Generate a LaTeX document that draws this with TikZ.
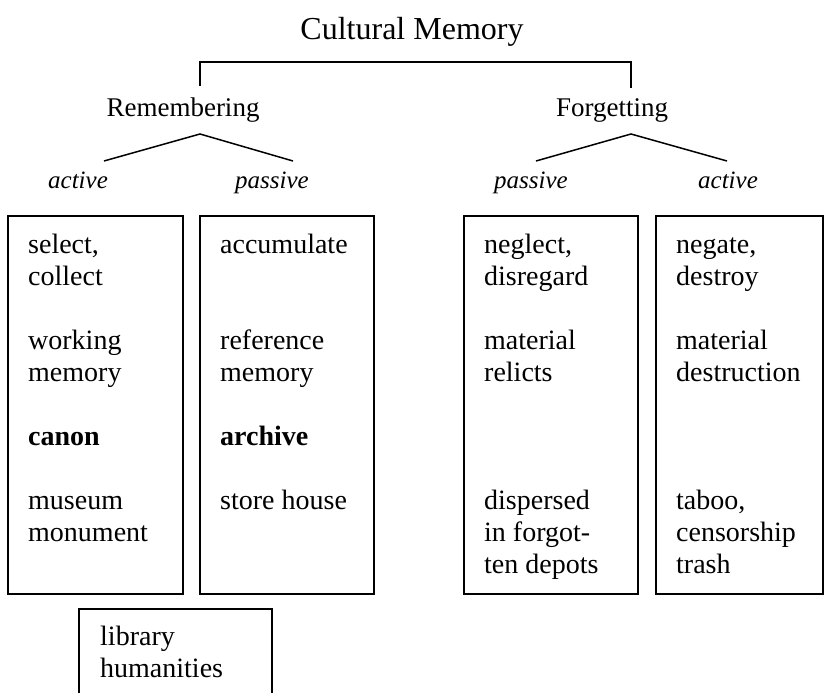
\documentclass[tikz,border=0pt]{standalone}
\usepackage{fontspec}
\setmainfont{Liberation Serif}
\begin{document}
\begin{tikzpicture}[x=1pt,y=-1pt,
  frame/.style={draw, line width=1.5pt, inner sep=0pt, anchor=north west},
  link/.style={draw, line width=1.5pt},
  txt/.style={anchor=base west, inner sep=0pt, font=\fontsize{28}{32}\selectfont},
  head/.style={anchor=base, inner sep=0pt, font=\fontsize{27}{32}\selectfont},
  sub/.style={anchor=base, inner sep=0pt, font=\fontsize{25}{32}\selectfont\itshape}]
\useasboundingbox (0,0) rectangle (824,693);
% headings
\node[anchor=base, inner sep=0pt, font=\fontsize{32}{36}\selectfont] (title) at (412,40) {Cultural Memory};
\node[head] (rem) at (183,116) {Remembering};
\node[head] (forg) at (612,116) {Forgetting};
\coordinate (remtop) at (200,86);
\coordinate (forgtop) at (631,88);
\coordinate (bl) at (200,62);
\coordinate (br) at (631,62);
\draw[link] (remtop) -- (bl) -- (br) -- (forgtop);
% sub labels
\node[sub] (ra) at (78,188) {active};
\node[sub] (rp) at (272,188) {passive};
\node[sub] (fp) at (531,188) {passive};
\node[sub] (fa) at (728,188) {active};
\coordinate (rapex) at (200,134);
\coordinate (fapex) at (631,134);
\coordinate (ral) at (104,161);
\coordinate (rar) at (293,161);
\coordinate (fal) at (536,161);
\coordinate (far) at (727,161);
\draw[link] (ral) -- (rapex) -- (rar);
\draw[link] (fal) -- (fapex) -- (far);
% boxes
\node[frame, minimum width=175pt, minimum height=378pt] (b1) at (7,215) {};
\node[frame, minimum width=174pt, minimum height=378pt] (b2) at (199,215) {};
\node[frame, minimum width=174pt, minimum height=378pt] (b3) at (463,215) {};
\node[frame, minimum width=167pt, minimum height=378pt] (b4) at (655,215) {};
% box 1
\node[txt] (b1a) at (28,253) {select,};
\node[txt] (b1b) at (28,285) {collect};
\node[txt] (b1c) at (28,349) {working};
\node[txt] (b1d) at (28,381) {memory};
\node[txt] (b1e) at (28,445) {\bfseries canon};
\node[txt] (b1f) at (28,509) {museum};
\node[txt] (b1g) at (28,541) {monument};
% box 2
\node[txt] (b2a) at (220,253) {accumulate};
\node[txt] (b2c) at (220,349) {reference};
\node[txt] (b2d) at (220,381) {memory};
\node[txt] (b2e) at (220,445) {\bfseries archive};
\node[txt] (b2f) at (220,509) {store house};
% box 3
\node[txt] (b3a) at (484,253) {neglect,};
\node[txt] (b3b) at (484,285) {disregard};
\node[txt] (b3c) at (484,349) {material};
\node[txt] (b3d) at (484,381) {relicts};
\node[txt] (b3f) at (484,509) {dispersed};
\node[txt] (b3g) at (484,541) {in forgot-};
\node[txt] (b3h) at (484,573) {ten depots};
% box 4
\node[txt] (b4a) at (676,253) {negate,};
\node[txt] (b4b) at (676,285) {destroy};
\node[txt] (b4c) at (676,349) {material};
\node[txt] (b4d) at (676,381) {destruction};
\node[txt] (b4f) at (676,509) {taboo,};
\node[txt] (b4g) at (676,541) {censorship};
\node[txt] (b4h) at (676,573) {trash};
% library box (open at the bottom)
\coordinate (lbl) at (79,693);
\coordinate (ltl) at (79,609);
\coordinate (ltr) at (272,609);
\coordinate (lbr) at (272,693);
\draw[link] (lbl) -- (ltl) -- (ltr) -- (lbr);
\node[txt] (l1) at (100,645) {library};
\node[txt] (l2) at (100,677) {humanities};
\end{tikzpicture}
\end{document}
